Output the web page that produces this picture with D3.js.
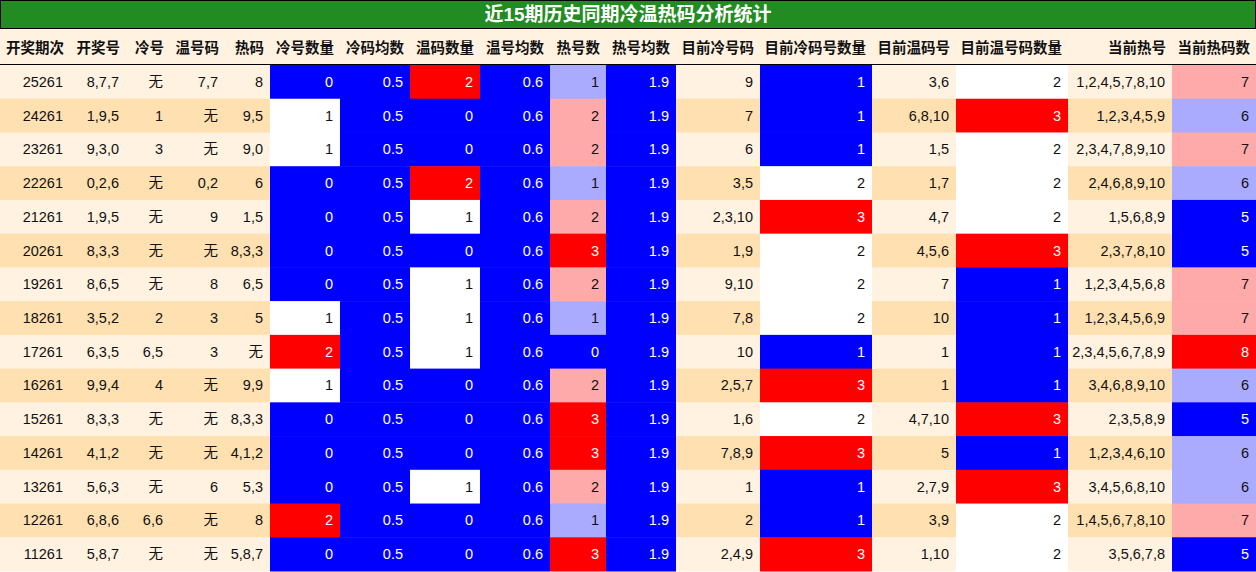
<!DOCTYPE html>
<html><head><meta charset="utf-8">
<script src="https://cdn.jsdelivr.net/npm/d3@7"></script>
<style>body{margin:0;background:#fff}svg{display:block}</style>
</head><body><svg id="c" width="1256" height="572"></svg>
<script>
const title = "近15期历史同期冷温热码分析统计";
const headers = ["开奖期次","开奖号","冷号","温号码","热码","冷号数量","冷码均数","温码数量","温号均数","热号数","热号均数","目前冷号码","目前冷码号数量","目前温码号","目前温号码数量","当前热号","当前热码数"];
const periods = ["25261","24261","23261","22261","21261","20261","19261","18261","17261","16261","15261","14261","13261","12261","11261"];
const drawNums = ["8,7,7","1,9,5","9,3,0","0,2,6","1,9,5","8,3,3","8,6,5","3,5,2","6,3,5","9,9,4","8,3,3","4,1,2","5,6,3","6,8,6","5,8,7"];
const coldNums = ["无","1","3","无","无","无","无","2","6,5","4","无","无","无","6,6","无"];
const warmNums = ["7,7","无","无","0,2","9","无","8","3","3","无","无","无","6","无","无"];
const hotNums = ["8","9,5","9,0","6","1,5","8,3,3","6,5","5","无","9,9","8,3,3","4,1,2","5,3","8","5,8,7"];
const coldCount = [0,1,1,0,0,0,0,1,2,1,0,0,0,2,0];
const coldAvg = 0.5;
const warmCount = [2,0,0,2,1,0,1,1,1,0,0,0,1,0,0];
const warmAvg = 0.6;
const hotCount = [1,2,2,1,2,3,2,1,0,2,3,3,2,1,3];
const hotAvg = 1.9;
const curCold = ["9","7","6","3,5","2,3,10","1,9","9,10","7,8","10","2,5,7","1,6","7,8,9","1","2","2,4,9"];
const curColdCount = [1,1,1,2,3,2,2,2,1,3,2,3,1,1,3];
const curWarm = ["3,6","6,8,10","1,5","1,7","4,7","4,5,6","7","10","1","1","4,7,10","5","2,7,9","3,9","1,10"];
const curWarmCount = [2,3,2,2,2,3,1,1,1,1,3,1,3,2,2];
const curHot = ["1,2,4,5,7,8,10","1,2,3,4,5,9","2,3,4,7,8,9,10","2,4,6,8,9,10","1,5,6,8,9","2,3,7,8,10","1,2,3,4,5,6,8","1,2,3,4,5,6,9","2,3,4,5,6,7,8,9","3,4,6,8,9,10","2,3,5,8,9","1,2,3,4,6,10","3,4,5,6,8,10","1,4,5,6,7,8,10","3,5,6,7,8"];
const curHotCount = [7,6,7,6,5,5,7,7,8,6,5,6,6,7,5];

const colEdges = [0,70,126,170,225,270,340,410,480,550,606,676,760,872,956,1068,1172,1256];
const BLUE="#0000ff", RED="#ff0000", WHITE="#ffffff", LB="#aaaaff", PK="#ffaaaa";
const sc3 = d3.scaleOrdinal().domain([0,1,2]).range([BLUE,WHITE,RED]);
const scHot = d3.scaleOrdinal().domain([0,1,2,3]).range([BLUE,LB,PK,RED]);
const scCur = d3.scaleOrdinal().domain([1,2,3]).range([BLUE,WHITE,RED]);
const scCurHot = d3.scaleOrdinal().domain([5,6,7,8]).range([BLUE,LB,PK,RED]);
const avgC = () => BLUE;

const cols = [
 {v:periods},{v:drawNums},{v:coldNums},{v:warmNums},{v:hotNums},
 {v:coldCount,c:sc3},{v:periods.map(()=>coldAvg),c:avgC},
 {v:warmCount,c:sc3},{v:periods.map(()=>warmAvg),c:avgC},
 {v:hotCount,c:scHot},{v:periods.map(()=>hotAvg),c:avgC},
 {v:curCold},{v:curColdCount,c:scCur},{v:curWarm},{v:curWarmCount,c:scCur},
 {v:curHot},{v:curHotCount,c:scCurHot}
];

const svg = d3.select("#c");
const font = "'Liberation Sans','Noto Sans CJK SC',sans-serif";
const y = d3.scaleBand().domain(d3.range(15)).range([65,571]).paddingInner(0);
const rowBg = i => i%2===0 ? "#fff2e0" : "#ffe0b0";

svg.append("rect").attr("x",0.5).attr("y",0.5).attr("width",1255).attr("height",28).attr("fill","#228b22").attr("stroke","#000");
svg.append("text").attr("x",628).attr("y",21).attr("text-anchor","middle").attr("fill","#fff")
  .attr("font-family",font).attr("font-weight","bold").attr("font-size",19).text(title);
svg.append("rect").attr("x",0).attr("y",29).attr("width",1256).attr("height",36).attr("fill","#fff2e0");
headers.forEach((h,j)=>{
  svg.append("text").attr("x",colEdges[j+1]-6).attr("y",53).attr("text-anchor","end")
   .attr("font-family",font).attr("font-weight","bold").attr("font-size",14.5).attr("fill","#111").text(h);
});
svg.append("line").attr("x1",0).attr("x2",1256).attr("y1",64.5).attr("y2",64.5).attr("stroke","#000");

for(let i=0;i<15;i++){
  cols.forEach((col,j)=>{
    const x0=colEdges[j], x1=colEdges[j+1];
    const val=col.v[i];
    const fill = col.c ? col.c(val) : rowBg(i);
    svg.append("rect").attr("x",x0).attr("y",y(i)).attr("width",x1-x0).attr("height",y.bandwidth()+0.5).attr("fill",fill);
    const dark = fill===BLUE||fill===RED;
    svg.append("text").attr("x",x1-7).attr("y",y(i)+y.bandwidth()/2+5).attr("text-anchor","end")
      .attr("font-family",font).attr("font-size",14.5).attr("fill",dark?"#fff":"#111").text(val);
  });
}
</script></body></html>
